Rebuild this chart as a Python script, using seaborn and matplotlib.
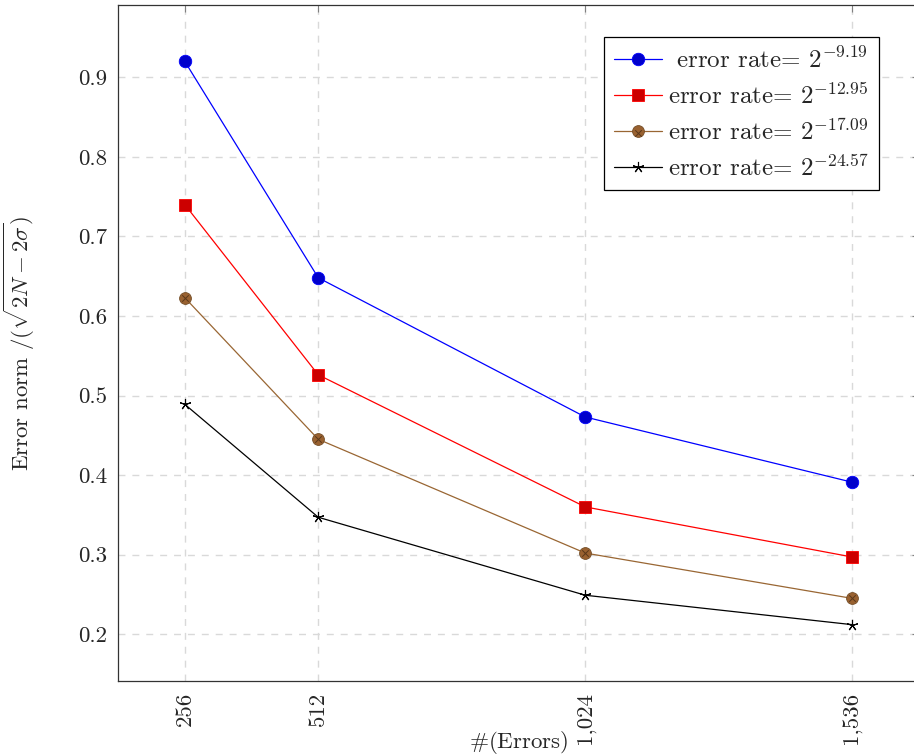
import numpy as np
import pandas as pd
import seaborn as sns
from matplotlib import pyplot as plt
from matplotlib.legend_handler import HandlerTuple

# data
n_errors = [256, 512, 1024, 1536]
x_labels = ['256', '512', '1,024', '1,536']
y_ticks = [0.2, 0.3, 0.4, 0.5, 0.6, 0.7, 0.8, 0.9]

rate_919 = [0.920, 0.648, 0.473, 0.391]
rate_1295 = [0.740, 0.526, 0.360, 0.297]
rate_1709 = [0.623, 0.445, 0.302, 0.245]
rate_2457 = [0.489, 0.347, 0.249, 0.212]

labels = [r' error rate= $2^{-9.19}$', r'error rate= $2^{-12.95}$',
          r'error rate= $2^{-17.09}$', r'error rate= $2^{-24.57}$']

FS = 16.5
LEG_FS = 18

sns.set_style('white')
plt.rcParams['font.family'] = ['cmr10', 'DejaVu Serif']
plt.rcParams['mathtext.fontset'] = 'cm'
plt.rcParams['axes.unicode_minus'] = False
plt.rcParams['font.size'] = FS

fig = plt.figure(figsize=(9.14, 7.56), dpi=100)
ax = fig.add_axes([118 / 914, 75 / 756, 801 / 914, 676 / 756])

# blue circles
sns.lineplot(x=n_errors, y=rate_919, ax=ax, color='blue', lw=0.9,
             marker='o', markersize=9, markerfacecolor=(0, 0, 0.8),
             markeredgecolor='blue', markeredgewidth=0.6)
# red squares
sns.lineplot(x=n_errors, y=rate_1295, ax=ax, color='red', lw=0.9,
             marker='s', markersize=8.5, markerfacecolor=(0.8, 0, 0),
             markeredgecolor='red', markeredgewidth=0.6)
# brown otimes
brown = (0.6, 0.4, 0.2)
sns.lineplot(x=n_errors, y=rate_1709, ax=ax, color=brown, lw=0.9,
             marker='o', markersize=8.5, markerfacecolor=(0.6, 0.38, 0.19),
             markeredgecolor=(0.45, 0.3, 0.15), markeredgewidth=0.6)
brown_x = ax.scatter(n_errors, rate_1709, marker='x', s=22, color=(0.35, 0.22, 0.1),
                     linewidths=0.7, zorder=5)
# black stars
sns.lineplot(x=n_errors, y=rate_2457, ax=ax, color='black', lw=0.9,
             marker=(5, 2, 0), markersize=8, markeredgewidth=0.8,
             markeredgecolor='black', markerfacecolor='black')

lines = ax.get_lines()

ax.set_xlim(128, 1664)
ax.set_ylim(0.1412, 0.9908)
ax.set_xticks(n_errors)
ax.set_xticklabels(x_labels, rotation=90)
ax.set_yticks(y_ticks)
ax.set_yticklabels([f'{v:.1f}' for v in y_ticks])

ax.grid(True, color='#d9d9d9', linestyle=(0, (5, 5)), lw=1.0)
ax.tick_params(direction='in', length=5, color='#808080', top=True, right=True,
               labelsize=FS, pad=8)
for s in ax.spines.values():
    s.set_color('#333333')
    s.set_linewidth(0.9)

ax.set_ylabel(r'Error norm $/(\sqrt{2N-2\sigma})$', fontsize=FS)
ax.yaxis.set_label_coords(-0.101, 0.5)
ax.set_xlabel(r'$\#$(Errors)', fontsize=FS)
ax.xaxis.set_label_coords(0.5, -0.071)

handles = [lines[0], lines[1], (lines[2], brown_x), lines[3]]
leg = ax.legend(handles, labels, loc='upper right',
                bbox_to_anchor=((879 - 118) / 801, (681 - 37) / 676),
                handler_map={tuple: HandlerTuple(ndivide=1)},
                frameon=True, fancybox=False, edgecolor='black', framealpha=1,
                fontsize=LEG_FS, handlelength=1.9, handletextpad=0.25,
                borderpad=0.4, labelspacing=0.4, borderaxespad=0)
leg.get_frame().set_linewidth(0.9)

fig.savefig('out.png', dpi=100)
